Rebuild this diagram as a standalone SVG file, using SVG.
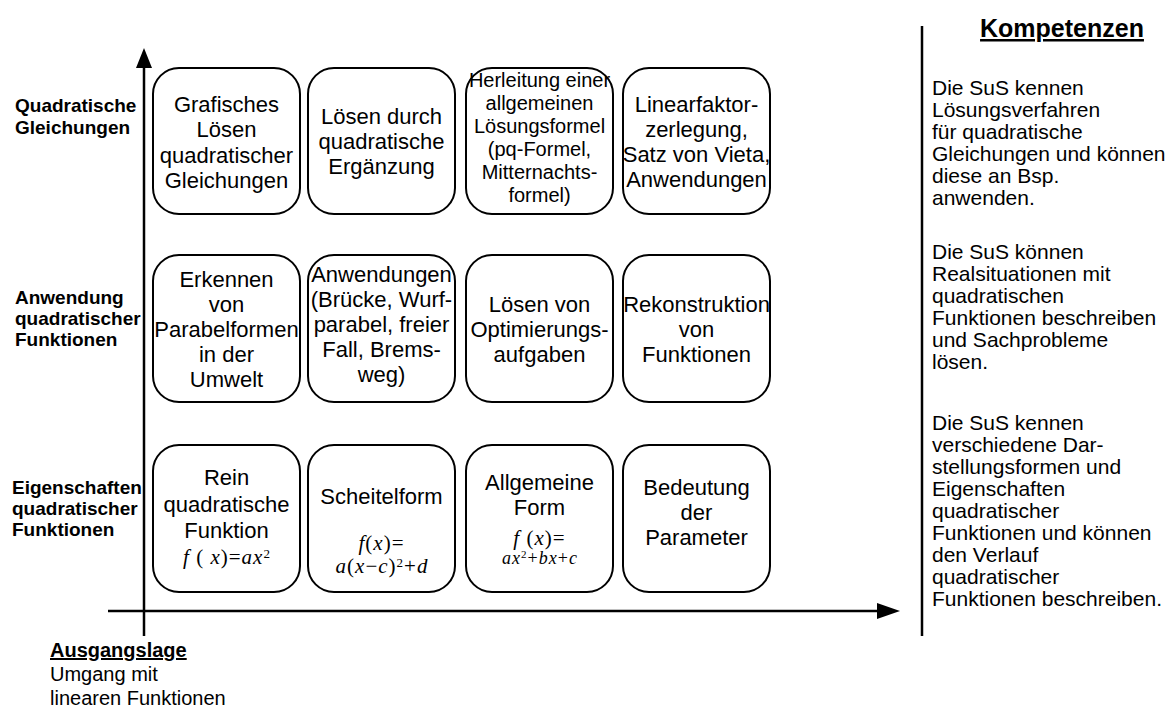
<svg xmlns="http://www.w3.org/2000/svg" width="1168" height="707" viewBox="0 0 1168 707">
<style>
.box{fill:#fff;stroke:#000;stroke-width:2}
.t{font-family:"Liberation Sans",Arial,sans-serif;font-size:22px;fill:#000;text-anchor:middle}
.ts{font-size:20px}
.lab{font-family:"Liberation Sans",Arial,sans-serif;font-size:19px;font-weight:bold;fill:#000}
.r{font-family:"Liberation Sans",Arial,sans-serif;font-size:21px;fill:#000}
.m{font-family:"Liberation Serif","Times New Roman",serif;font-size:21px;fill:#000;text-anchor:middle;letter-spacing:1px}
.i{font-style:italic}
.sup{font-size:13px}
.ax{stroke:#000;stroke-width:2.5;fill:none}
</style>
<g id="axes">
<line class="ax" x1="144" y1="636" x2="144" y2="66"/>
<polygon points="144,48 136,68 152,68" fill="#000"/>
<line class="ax" x1="108" y1="611" x2="879" y2="611"/>
<polygon points="900,611 877,603 877,619" fill="#000"/>
<line class="ax" x1="922" y1="26" x2="922" y2="636"/>
</g>
<g id="row-labels">
<text class="lab" x="15" y="112">Quadratische</text>
<text class="lab" x="15" y="134">Gleichungen</text>
<text class="lab" x="15" y="304">Anwendung</text>
<text class="lab" x="15" y="325">quadratischer</text>
<text class="lab" x="15" y="346">Funktionen</text>
<text class="lab" x="12" y="494">Eigenschaften</text>
<text class="lab" x="12" y="515">quadratischer</text>
<text class="lab" x="12" y="536">Funktionen</text>
</g>
<g id="n11"><rect class="box" x="153" y="68" width="147" height="146" rx="26"/>
<text class="t" x="226.5" y="112">Grafisches</text><text class="t" x="226.5" y="137">Lösen</text><text class="t" x="226.5" y="163">quadratischer</text><text class="t" x="226.5" y="188">Gleichungen</text></g>
<g id="n12"><rect class="box" x="308" y="68" width="147" height="146" rx="26"/>
<text class="t" x="381.5" y="124">Lösen durch</text><text class="t" x="381.5" y="149">quadratische</text><text class="t" x="381.5" y="174">Ergänzung</text></g>
<g id="n13"><rect class="box" x="466" y="68" width="147" height="146" rx="26"/>
<text class="t ts" x="539.5" y="87">Herleitung einer</text><text class="t ts" x="539.5" y="110">allgemeinen</text><text class="t ts" x="539.5" y="133">Lösungsformel</text><text class="t ts" x="539.5" y="156">(pq-Formel,</text><text class="t ts" x="539.5" y="179">Mitternachts-</text><text class="t ts" x="539.5" y="202">formel)</text></g>
<g id="n14"><rect class="box" x="623" y="68" width="147" height="146" rx="26"/>
<text class="t" x="696.5" y="112">Linearfaktor-</text><text class="t" x="696.5" y="137">zerlegung,</text><text class="t" x="696.5" y="162">Satz von Vieta,</text><text class="t" x="696.5" y="187">Anwendungen</text></g>
<g id="n21"><rect class="box" x="153" y="255" width="147" height="147" rx="26"/>
<text class="t" x="226.5" y="287">Erkennen</text><text class="t" x="226.5" y="312">von</text><text class="t" x="226.5" y="337">Parabelformen</text><text class="t" x="226.5" y="362">in der</text><text class="t" x="226.5" y="387">Umwelt</text></g>
<g id="n22"><rect class="box" x="308" y="255" width="147" height="147" rx="26"/>
<text class="t" x="381.5" y="282">Anwendungen</text><text class="t" x="381.5" y="307">(Brücke, Wurf-</text><text class="t" x="381.5" y="332">parabel, freier</text><text class="t" x="381.5" y="357">Fall, Brems-</text><text class="t" x="381.5" y="382">weg)</text></g>
<g id="n23"><rect class="box" x="466" y="255" width="147" height="147" rx="26"/>
<text class="t" x="539.5" y="312">Lösen von</text><text class="t" x="539.5" y="337">Optimierungs-</text><text class="t" x="539.5" y="362">aufgaben</text></g>
<g id="n24"><rect class="box" x="623" y="255" width="147" height="147" rx="26"/>
<text class="t" x="696.5" y="312">Rekonstruktion</text><text class="t" x="696.5" y="337">von</text><text class="t" x="696.5" y="362">Funktionen</text></g>
<g id="n31"><rect class="box" x="153" y="445" width="147" height="147" rx="26"/>
<text class="t" x="226.5" y="485">Rein</text><text class="t" x="226.5" y="512">quadratische</text><text class="t" x="226.5" y="538">Funktion</text>
<text class="m" x="227" y="564" xml:space="preserve"><tspan class="i">f</tspan> ( <tspan class="i">x</tspan>)=<tspan class="i">ax</tspan><tspan class="sup" dy="-6">2</tspan></text></g>
<g id="n32"><rect class="box" x="308" y="445" width="147" height="147" rx="26"/>
<text class="t" x="381.5" y="504">Scheitelform</text>
<text class="m" x="381.5" y="550"><tspan class="i">f</tspan>(<tspan class="i">x</tspan>)=</text>
<text class="m" x="382" y="573"><tspan class="i">a</tspan>(<tspan class="i">x</tspan>−<tspan class="i">c</tspan>)<tspan class="sup" dy="-6">2</tspan><tspan dy="6">+</tspan><tspan class="i">d</tspan></text></g>
<g id="n33"><rect class="box" x="466" y="445" width="147" height="147" rx="26"/>
<text class="t" x="539.5" y="490">Allgemeine</text><text class="t" x="539.5" y="515">Form</text>
<text class="m" x="539.5" y="545" xml:space="preserve"><tspan class="i">f</tspan> (<tspan class="i">x</tspan>)=</text>
<text class="m" x="540" y="564" style="font-size:18px"><tspan class="i">ax</tspan><tspan style="font-size:11px" dy="-6">2</tspan><tspan dy="6">+</tspan><tspan class="i">bx</tspan>+<tspan class="i">c</tspan></text></g>
<g id="n34"><rect class="box" x="623" y="445" width="147" height="147" rx="26"/>
<text class="t" x="696.5" y="495">Bedeutung</text><text class="t" x="696.5" y="520">der</text><text class="t" x="696.5" y="545">Parameter</text></g>
<g id="start">
<text class="lab" x="50" y="657" style="font-size:20px" text-decoration="underline">Ausgangslage</text>
<text class="r" x="50" y="681" style="font-size:20px">Umgang mit</text>
<text class="r" x="50" y="705" style="font-size:20px">linearen Funktionen</text>
</g>
<g id="kompetenzen">
<text class="lab" x="1062" y="37" style="font-size:25px" text-anchor="middle" text-decoration="underline">Kompetenzen</text>
<text class="r" x="932" y="95">Die SuS kennen</text>
<text class="r" x="932" y="117">Lösungsverfahren</text>
<text class="r" x="932" y="139">für quadratische</text>
<text class="r" x="932" y="161">Gleichungen und können</text>
<text class="r" x="932" y="183">diese an Bsp.</text>
<text class="r" x="932" y="205">anwenden.</text>
<text class="r" x="932" y="259">Die SuS können</text>
<text class="r" x="932" y="281">Realsituationen mit</text>
<text class="r" x="932" y="303">quadratischen</text>
<text class="r" x="932" y="325">Funktionen beschreiben</text>
<text class="r" x="932" y="347">und Sachprobleme</text>
<text class="r" x="932" y="369">lösen.</text>
<text class="r" x="932" y="430">Die SuS kennen</text>
<text class="r" x="932" y="452">verschiedene Dar-</text>
<text class="r" x="932" y="474">stellungsformen und</text>
<text class="r" x="932" y="496">Eigenschaften</text>
<text class="r" x="932" y="518">quadratischer</text>
<text class="r" x="932" y="540">Funktionen und können</text>
<text class="r" x="932" y="562">den Verlauf</text>
<text class="r" x="932" y="584">quadratischer</text>
<text class="r" x="932" y="606">Funktionen beschreiben.</text>
</g>
</svg>
